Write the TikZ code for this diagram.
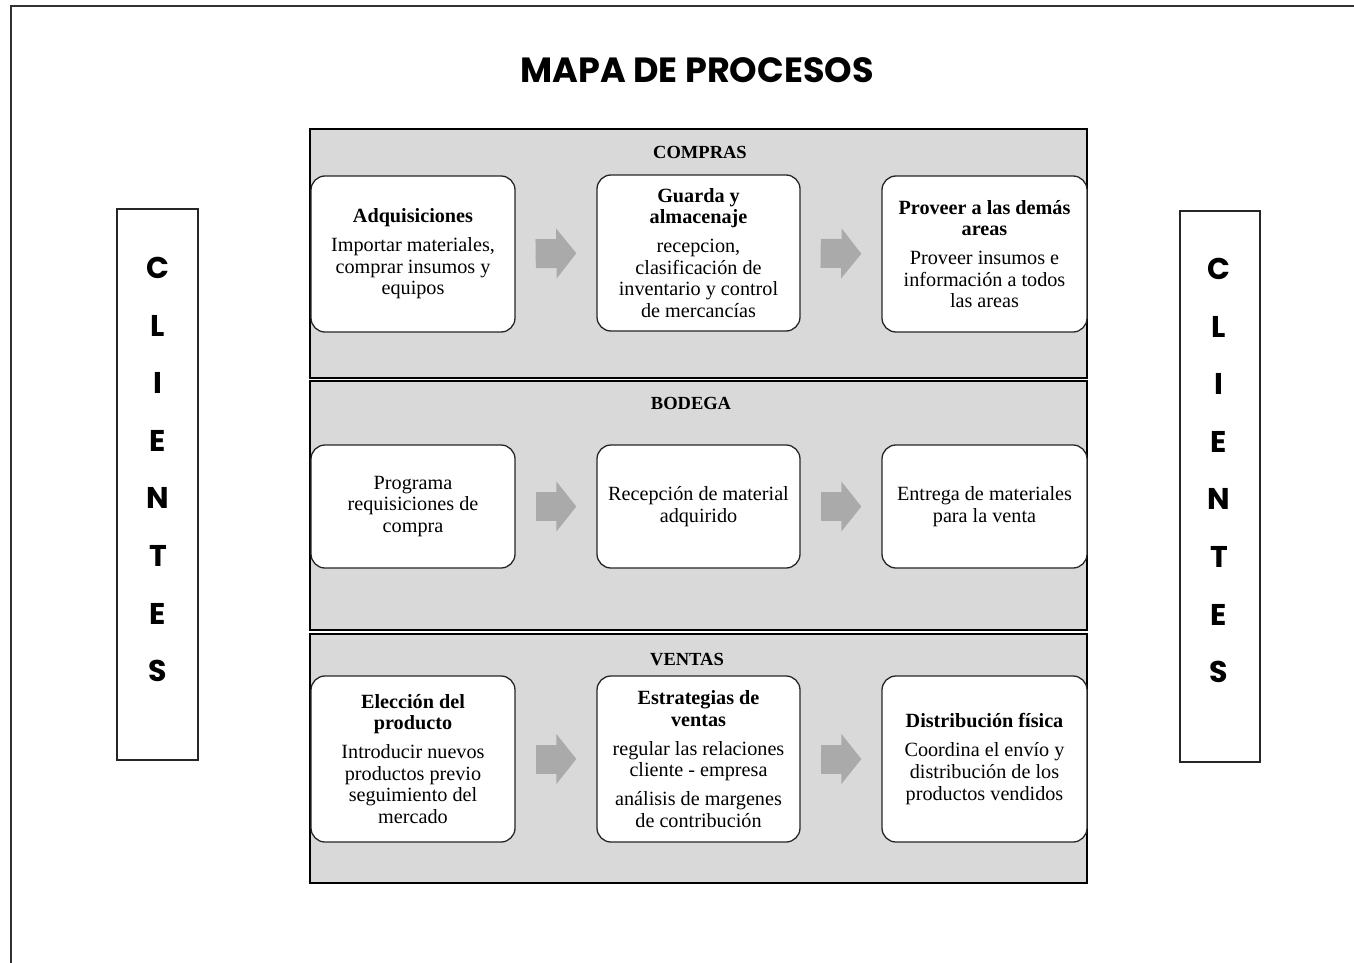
\documentclass[tikz,border=0pt]{standalone}
\usepackage{fontspec}
\setmainfont{Liberation Serif}
\newfontfamily\poppins{Poppins}
\usetikzlibrary{arrows.meta}
\definecolor{panelgray}{RGB}{217,217,217}
\definecolor{arrowgray}{RGB}{170,170,170}
\definecolor{framegray}{RGB}{50,50,50}
\begin{document}
\begin{tikzpicture}[x=1pt,y=-1pt,
  panel/.style={draw=black, line width=1.4pt, fill=panelgray, minimum width=777pt, minimum height=249pt, inner sep=0pt},
  procbox/.style={draw=black!85, line width=1.3pt, fill=white, rounded corners=14pt, minimum width=204pt, inner sep=0pt, align=center, font=\fontsize{20.2}{21.7}\selectfont},
  bigarrow/.style={-{Triangle[length=20pt,width=49pt]}, line width=29pt, draw=arrowgray, shorten <=20pt, shorten >=20pt},
  sectlabel/.style={font=\fontsize{18.5}{20}\selectfont\bfseries, inner sep=0pt},
  clientbox/.style={draw=black!85, line width=1.4pt, minimum width=81pt, minimum height=551pt, inner sep=0pt},
  clienttext/.style={font=\fontsize{30}{57.6}\selectfont\poppins\bfseries, align=center, inner sep=0pt},
  titletext/.style={font=\fontsize{35}{38}\selectfont\poppins\bfseries, inner sep=0pt}
]
\useasboundingbox (0,0) rectangle (1354,963);
\fill[white] (0,0) rectangle (1354,963);
% outer frame (cut off at right and bottom)
\draw[framegray, line width=2pt] (11,963) -- (11,6) -- (1354,6);

% title
\node[titletext] (title) at (697,70) {MAPA DE PROCESOS};

% panels
\node[panel] (pcompras) at (698.5,253.5) {};
\node[panel] (pbodega) at (698.5,505.5) {};
\node[panel] (pventas) at (698.5,758.5) {};
\node[sectlabel] (lcompras) at (700,152) {COMPRAS};
\node[sectlabel] (lbodega) at (691,403) {BODEGA};
\node[sectlabel] (lventas) at (687,660) {VENTAS};

% row 1
\node[procbox, minimum height=156pt] (a1) at (413,254) {\textbf{Adquisiciones}\\[7pt]Importar materiales,\\comprar insumos y\\equipos};
\node[procbox, minimum height=156pt, minimum width=203pt] (a2) at (698.5,253) {\textbf{Guarda y}\\\textbf{almacenaje}\\[7pt]recepcion,\\clasificación de\\inventario y control\\de mercancías};
\node[procbox, minimum height=156pt, minimum width=205pt] (a3) at (984.5,254) {\textbf{Proveer a las demás}\\\textbf{areas}\\[7pt]Proveer insumos e\\información a todos\\las areas};

% row 2
\node[procbox, minimum height=123pt] (b1) at (413,506.5) {Programa\\requisiciones de\\compra};
\node[procbox, minimum height=123pt, minimum width=203pt] (b2) at (698.5,506.5) {Recepción de material\\adquirido};
\node[procbox, minimum height=123pt, minimum width=205pt] (b3) at (984.5,506.5) {Entrega de materiales\\para la venta};

% row 3
\node[procbox, minimum height=166pt] (c1) at (413,759) {\textbf{Elección del}\\\textbf{producto}\\[7pt]Introducir nuevos\\productos previo\\seguimiento del\\mercado};
\node[procbox, minimum height=166pt, minimum width=203pt] (c2) at (698.5,759) {\textbf{Estrategias de}\\\textbf{ventas}\\[7pt]regular las relaciones\\cliente - empresa\\[7pt]análisis de margenes\\de contribución};
\node[procbox, minimum height=166pt, minimum width=205pt] (c3) at (984.5,759) {\textbf{Distribución física}\\[7pt]Coordina el envío y\\distribución de los\\productos vendidos};

% arrows
\draw[bigarrow] (a1.east) -- (a2.west);
\draw[bigarrow] (a2.east) -- (a3.west);
\draw[bigarrow] (b1.east) -- (b2.west);
\draw[bigarrow] (b2.east) -- (b3.west);
\draw[bigarrow] (c1.east) -- (c2.west);
\draw[bigarrow] (c2.east) -- (c3.west);

% clientes
\node[clientbox] (cleft) at (157.5,484.5) {};
\node[clienttext] (cleftt) at (158,469.5) {C\\L\\I\\E\\N\\T\\E\\S};
\node[clientbox, minimum width=80pt] (cright) at (1220,486.5) {};
\node[clienttext] (crightt) at (1219,470.5) {C\\L\\I\\E\\N\\T\\E\\S};
\end{tikzpicture}
\end{document}
